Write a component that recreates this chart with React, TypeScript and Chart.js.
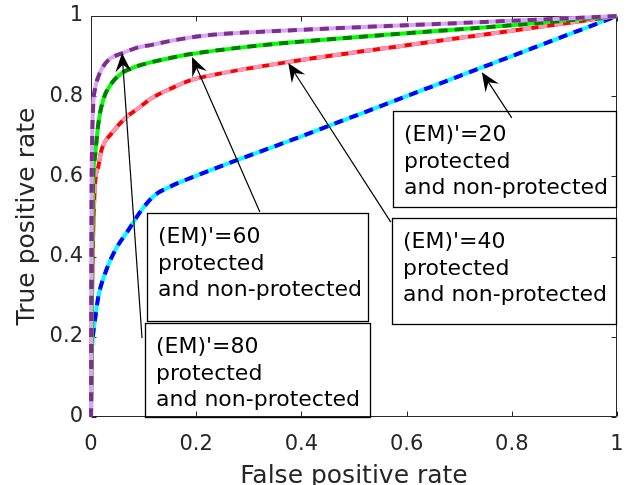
import React, { useEffect, useRef } from "react";
import { Chart, registerables } from "chart.js";

Chart.register(...registerables);

// ---- ROC curve data (false positive rate / true positive rate) ----
const fpr20 = [0, 0.001, 0.003, 0.0076, 0.014, 0.027, 0.046, 0.071, 0.096, 0.122, 0.145, 0.165, 0.4, 0.6, 0.8, 1];
const tpr20 = [0, 0.135, 0.19, 0.242, 0.3, 0.359, 0.416, 0.466, 0.516, 0.554, 0.571, 0.583, 0.7, 0.8, 0.9, 1];

const fpr40 = [0, 0.001, 0.002, 0.004, 0.0076, 0.014, 0.02, 0.039, 0.065, 0.09, 0.115, 0.15, 0.19, 0.232, 0.373, 0.6, 0.8, 1];
const tpr40 = [0, 0.15, 0.3, 0.45, 0.58, 0.625, 0.666, 0.707, 0.745, 0.77, 0.795, 0.818, 0.84, 0.853, 0.885, 0.927, 0.963, 1];

const fpr60 = [0, 0.001, 0.002, 0.004, 0.0076, 0.014, 0.023, 0.039, 0.058, 0.084, 0.115, 0.15, 0.19, 0.296, 0.39, 0.6, 0.8, 1];
const tpr60 = [0, 0.2, 0.4, 0.59, 0.649, 0.732, 0.79, 0.832, 0.857, 0.873, 0.885, 0.895, 0.905, 0.923, 0.935, 0.957, 0.977, 1];

const fpr80 = [0, 0.0005, 0.001, 0.002, 0.004, 0.008, 0.014, 0.022, 0.033, 0.045, 0.061, 0.085, 0.115, 0.16, 0.23, 0.36, 0.6, 0.8, 1];
const tpr80 = [0, 0.35, 0.55, 0.68, 0.774, 0.82, 0.849, 0.872, 0.89, 0.9, 0.908, 0.92, 0.928, 0.94, 0.953, 0.963, 0.977, 0.988, 1];

// ---- annotation texts ----
const emLabels = ["(EM)'=20", "(EM)'=40", "(EM)'=60", "(EM)'=80"];
const subLine1 = "protected";
const subLine2 = "and non-protected";

// ---- annotation layout (data units) ----
const boxLeft = [0.574, 0.572, 0.106, 0.103];
const boxTop = [0.763, 0.496, 0.509, 0.234];
const boxRight = [1.0, 1.0, 0.529, 0.532];
const boxBottom = [0.524, 0.232, 0.239, 0.0];
const tailX = [0.8, 0.57, 0.321, 0.097];
const tailY = [0.746, 0.486, 0.511, 0.197];
const tipX = [0.743, 0.375, 0.192, 0.059];
const tipY = [0.86, 0.883, 0.898, 0.908];

const FONT = "DejaVu Sans";
const AXIS_COLOR = "#262626";

const toPts = (xs: number[], ys: number[]) => xs.map((x, i) => ({ x, y: ys[i] }));
const fmt = (v: any) => `${Math.round(Number(v) * 10) / 10}`;

const framePlugin = {
  id: "frame",
  beforeDatasetsDraw(chart: any) {
    const { ctx, chartArea, scales } = chart;
    const { left, right, top, bottom } = chartArea;
    const L = Math.round(left) + 0.5;
    const R = Math.round(right) - 0.5;
    const T = Math.round(top) + 0.5;
    const B = Math.round(bottom) - 0.5;
    ctx.save();
    ctx.strokeStyle = AXIS_COLOR;
    ctx.lineWidth = 1;
    ctx.beginPath();
    ctx.rect(L, T, R - L, B - T);
    const tl = 5;
    scales.x.ticks.forEach((t: any) => {
      const p = Math.round(scales.x.getPixelForValue(t.value)) + 0.5;
      ctx.moveTo(p, B);
      ctx.lineTo(p, B - tl);
      ctx.moveTo(p, T);
      ctx.lineTo(p, T + tl);
    });
    scales.y.ticks.forEach((t: any) => {
      const p = Math.round(scales.y.getPixelForValue(t.value)) + 0.5;
      ctx.moveTo(L, p);
      ctx.lineTo(L + tl, p);
      ctx.moveTo(R, p);
      ctx.lineTo(R - tl, p);
    });
    ctx.stroke();
    ctx.restore();
  },
};

const annotationPlugin = {
  id: "annots",
  afterDatasetsDraw(chart: any) {
    const { ctx, scales } = chart;
    const xs = scales.x;
    const ys = scales.y;
    ctx.save();
    for (let i = 0; i < emLabels.length; i++) {
      const l = Math.round(xs.getPixelForValue(boxLeft[i]));
      const r = Math.round(xs.getPixelForValue(boxRight[i]));
      const t = Math.round(ys.getPixelForValue(boxTop[i]));
      const b = Math.round(ys.getPixelForValue(boxBottom[i]));
      ctx.strokeStyle = "#000";
      ctx.lineWidth = 1.3;
      ctx.strokeRect(l + 0.5, t + 0.5, r - l - 1, b - t);
      ctx.fillStyle = "#000";
      ctx.font = `22px "${FONT}"`;
      ctx.textBaseline = "alphabetic";
      ctx.textAlign = "left";
      const lines = [emLabels[i], subLine1, subLine2];
      lines.forEach((s, k) => ctx.fillText(s, l + 11, t + 30 + k * 26.5));

      // arrow
      const sx = xs.getPixelForValue(tailX[i]);
      const sy = ys.getPixelForValue(tailY[i]);
      const ex = xs.getPixelForValue(tipX[i]);
      const ey = ys.getPixelForValue(tipY[i]);
      const ang = Math.atan2(ey - sy, ex - sx);
      const HL = 19, HW = 8, HN = 12;
      ctx.beginPath();
      ctx.lineWidth = 1.2;
      ctx.moveTo(sx, sy);
      ctx.lineTo(ex - HN * Math.cos(ang), ey - HN * Math.sin(ang));
      ctx.stroke();
      ctx.save();
      ctx.translate(ex, ey);
      ctx.rotate(ang);
      ctx.beginPath();
      ctx.moveTo(0, 0);
      ctx.lineTo(-HL, -HW);
      ctx.lineTo(-HN, 0);
      ctx.lineTo(-HL, HW);
      ctx.closePath();
      ctx.fill();
      ctx.restore();
    }
    ctx.restore();
  },
};

const mk = (xs: number[], ys: number[], color: string, dashed: boolean) => ({
  data: toPts(xs, ys),
  borderColor: color,
  backgroundColor: color,
  borderWidth: 4,
  borderDash: dashed ? [9, 7] : [],
  pointRadius: 0,
  fill: false,
  cubicInterpolationMode: "monotone" as const,
  clip: false as any,
});

export default function App() {
  const ref = useRef<HTMLCanvasElement>(null);
  useEffect(() => {
    const chart = new Chart(ref.current!, {
      type: "line",
      data: {
        datasets: [
          mk(fpr80, tpr80, "#7E2F8E", true),
          mk(fpr80, tpr80, "#D8A8F5", false),
          mk(fpr60, tpr60, "#007F00", true),
          mk(fpr60, tpr60, "#00FF00", false),
          mk(fpr40, tpr40, "#FA96B4", true),
          mk(fpr40, tpr40, "#FF0000", false),
          mk(fpr20, tpr20, "#0000FF", true),
          mk(fpr20, tpr20, "#00FFFF", false),
        ] as any,
      },
      options: {
        animation: false,
        responsive: false,
        devicePixelRatio: 1,
        layout: { padding: { top: 16, right: 23, left: 0, bottom: 0 } },
        plugins: { legend: { display: false }, tooltip: { enabled: false } },
        scales: {
          x: {
            type: "linear",
            min: 0,
            max: 1,
            ticks: { stepSize: 0.2, color: AXIS_COLOR, font: { family: FONT, size: 21 }, padding: 15, maxRotation: 0, callback: fmt },
            grid: { display: false, drawTicks: false },
            border: { display: false },
            title: {
              display: true,
              text: "False positive rate",
              color: AXIS_COLOR,
              font: { family: FONT, size: 25, lineHeight: 0.72 },
              padding: { top: 0, bottom: 0 },
            },
            afterFit: (s: any) => { s.height = 68; s.paddingLeft = 0; s.paddingRight = 0; },
          },
          y: {
            type: "linear",
            min: 0,
            max: 1,
            ticks: { stepSize: 0.2, color: AXIS_COLOR, font: { family: FONT, size: 21 }, padding: 8, callback: fmt },
            grid: { display: false, drawTicks: false },
            border: { display: false },
            title: {
              display: true,
              text: "True positive rate",
              color: AXIS_COLOR,
              font: { family: FONT, size: 25, lineHeight: 1.2 },
              padding: { top: 12, bottom: 0 },
            },
            afterFit: (s: any) => { s.width = 91; s.paddingTop = 0; s.paddingBottom = 0; },
          },
        },
      },
      plugins: [framePlugin, annotationPlugin],
    });
    return () => chart.destroy();
  }, []);
  return (
    <div style={{ position: "fixed", left: 0, top: 0, width: 640, height: 485, background: "#fff" }}>
      <canvas ref={ref} width={640} height={485} style={{ display: "block" }} />
    </div>
  );
}
